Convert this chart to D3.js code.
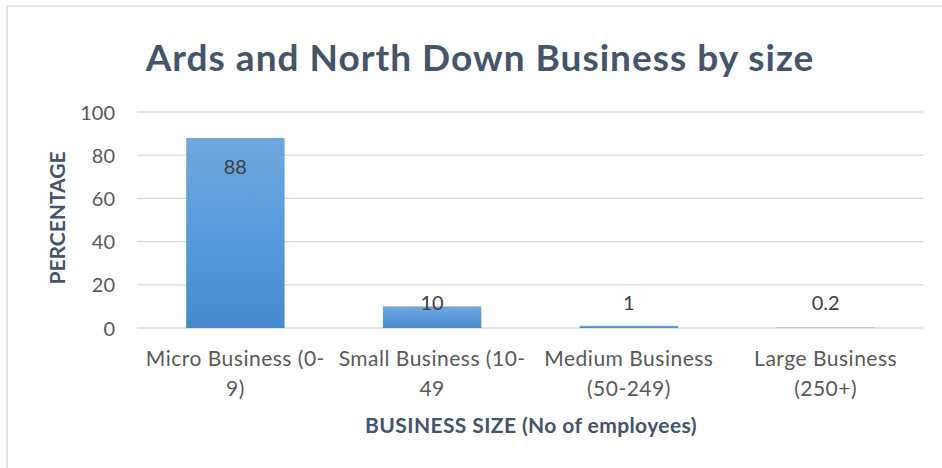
<!DOCTYPE html>
<meta charset="utf-8">
<head>
<style>
body { margin: 0; background: #fff; }
text { font-family: Lato, "Open Sans", sans-serif; }
.grid line { stroke: #d9d9d9; stroke-width: 1.3px; }
.tick text { fill: #595959; font-size: 20px; }
.cat { fill: #595959; font-size: 21px; letter-spacing: 0.5px; }
.val { fill: #404040; font-size: 20px; }
.ttl { fill: #44546a; font-weight: bold; }
</style>
</head>
<body>
<script src="https://d3js.org/d3.v7.min.js"></script>
<script>

// data
var categories = ["Micro Business (0-|9)", "Small Business (10-|49", "Medium Business|(50-249)", "Large Business|(250+)"];
var values = [88, 10, 1, 0.2];
var yTicks = [0, 20, 40, 60, 80, 100];

var W = 942, H = 468;
var margin = {top: 112, right: 18, bottom: 140, left: 137},
    width = 924 - margin.left,
    height = 328 - margin.top;

var svg = d3.select("body").append("svg")
    .attr("width", W)
    .attr("height", H);

// frame
svg.append("path")
    .attr("d", "M7," + H + "V6H" + W)
    .attr("fill", "none")
    .attr("stroke", "#e3e7eb")
    .attr("stroke-width", 2);

// gradient for the bars
var grad = svg.append("defs").append("linearGradient")
    .attr("id", "barGrad")
    .attr("x1", 0).attr("y1", 0).attr("x2", 0).attr("y2", 1);
grad.append("stop").attr("offset", "0%").attr("stop-color", "#70a7de");
grad.append("stop").attr("offset", "50%").attr("stop-color", "#589bdb");
grad.append("stop").attr("offset", "100%").attr("stop-color", "#4689cc");

var g = svg.append("g")
    .attr("transform", "translate(" + margin.left + "," + margin.top + ")");

var x = d3.scaleBand().domain(categories).range([0, width]).paddingInner(0.5).paddingOuter(0.25);
var y = d3.scaleLinear().domain([0, 100]).range([height, 0]);

// gridlines
g.append("g")
    .attr("class", "grid")
    .selectAll("line")
    .data(yTicks)
    .enter().append("line")
    .attr("x1", 0).attr("x2", width)
    .attr("y1", function(d) { return y(d); })
    .attr("y2", function(d) { return y(d); });

// y axis
var yAxis = g.append("g")
    .call(d3.axisLeft(y).tickValues(yTicks).tickSize(0).tickPadding(22));
yAxis.select(".domain").remove();
yAxis.selectAll("text").attr("dy", "0.35em");

// bars
g.selectAll(".bar")
    .data(values)
    .enter().append("rect")
    .attr("class", "bar")
    .attr("x", function(d, i) { return x(categories[i]); })
    .attr("width", x.bandwidth())
    .attr("y", function(d) { return y(d); })
    .attr("height", function(d) { return height - y(d); })
    .attr("fill", "url(#barGrad)");

// value labels
g.selectAll(".val")
    .data(values)
    .enter().append("text")
    .attr("class", "val")
    .attr("text-anchor", "middle")
    .attr("x", function(d, i) { return x(categories[i]) + x.bandwidth() / 2; })
    .attr("y", function(d) { return d > 50 ? y(d) + 36 : height - 18; })
    .text(function(d) { return d; });

// category labels (two lines)
var cats = g.selectAll(".cat")
    .data(categories)
    .enter().append("text")
    .attr("class", "cat")
    .attr("text-anchor", "middle")
    .attr("transform", function(d) { return "translate(" + (x(d) + x.bandwidth() / 2) + "," + (height + 38) + ")"; });
cats.selectAll("tspan")
    .data(function(d) { return d.split("|"); })
    .enter().append("tspan")
    .attr("x", 0)
    .attr("dy", function(d, i) { return i ? 30 : 0; })
    .text(function(d) { return d; });

// titles
svg.append("text")
    .attr("class", "ttl")
    .attr("x", 480).attr("y", 71)
    .attr("text-anchor", "middle")
    .style("font-size", "37px")
    .style("letter-spacing", "1px")
    .text("Ards and North Down Business by size");

svg.append("text")
    .attr("class", "ttl")
    .attr("x", 531).attr("y", 433)
    .attr("text-anchor", "middle")
    .style("font-size", "21px")
    .style("letter-spacing", "0.4px")
    .text("BUSINESS SIZE (No of employees)");

svg.append("text")
    .attr("class", "ttl")
    .attr("transform", "translate(65,218) rotate(-90)")
    .attr("text-anchor", "middle")
    .style("font-size", "21px")
    .text("PERCENTAGE");

</script>
</body>
